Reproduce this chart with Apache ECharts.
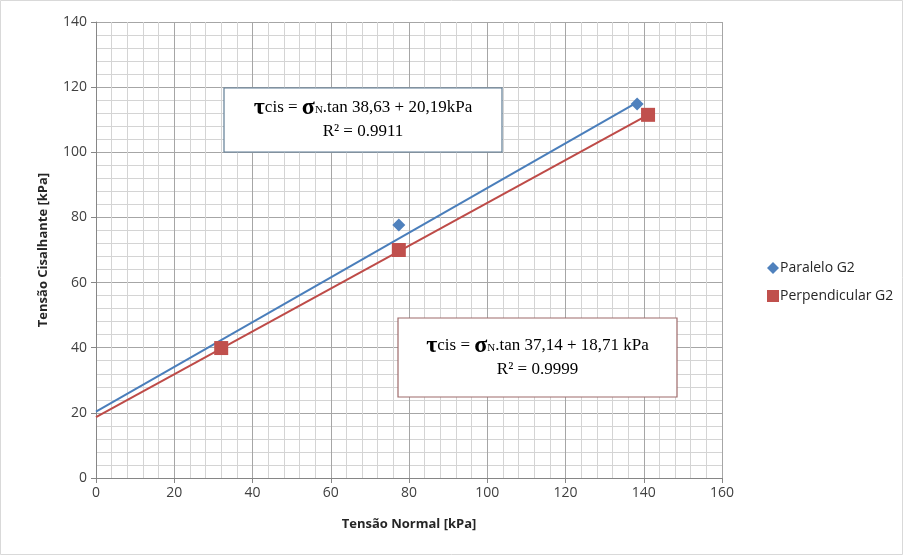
<!DOCTYPE html>
<html>
<head>
<meta charset="utf-8">
<script src="https://cdn.jsdelivr.net/npm/echarts@6/dist/echarts.min.js"></script>
<style>
  html, body { margin: 0; padding: 0; background: #fff; }
  #chart { width: 904px; height: 556px; }
</style>
</head>
<body>
<div id="chart"></div>
<script>
// Ensaio de cisalhamento direto – G2
const xTicks = [0, 20, 40, 60, 80, 100, 120, 140, 160];
const yTicks = [0, 20, 40, 60, 80, 100, 120, 140];

// Pontos medidos [tensão normal, tensão cisalhante] em kPa
const paraleloG2 = [[32, 40.3], [77.4, 77.7], [138.3, 114.8]];
const perpendicularG2 = [[32, 39.9], [77.4, 70.0], [141.1, 111.5]];

// Extremos das retas de tendência
const trendParalelo = [[0, 20.4], [138.3, 115.3]];
const trendPerpendicular = [[0, 18.7], [141.1, 111.5]];

const eqParalelo = ['38,63', '20,19kPa', '0.9911'];
const eqPerpendicular = ['37,14', '18,71 kPa', '0.9999'];

const serif = '"Liberation Serif", "Times New Roman", serif';
const sans = '"Open Sans", "Liberation Sans", Arial, sans-serif';

function eqText(e) {
  return '{g|τ}{t|cis = }{g|σ}{s|N}{t|.tan ' + e[0] + ' + ' + e[1] + '}\n{t|R² = ' + e[2] + '}';
}
const eqRich = {
  g: { fontFamily: serif, fontSize: 24, fontWeight: 'bold', color: '#1a1a1a', lineHeight: 24 },
  t: { fontFamily: serif, fontSize: 17, color: '#1a1a1a', lineHeight: 24 },
  s: { fontFamily: serif, fontSize: 11, color: '#1a1a1a', lineHeight: 24, padding: [5, 0, 0, 0] }
};

const chart = echarts.init(document.getElementById('chart'), null, { renderer: 'canvas' });

const gridLeft = 96, gridTop = 22, gridW = 626, gridH = 456;

function eqBox(x, y, w, h, stroke, e) {
  return {
    type: 'group', x: x, y: y, z: 100,
    children: [
      {
        type: 'rect', z: 100, shape: { x: 0, y: 0, width: w, height: h },
        style: { fill: '#ffffff', stroke: stroke, lineWidth: 1.2 }
      },
      {
        type: 'text', z: 101, x: w / 2, y: h / 2,
        style: {
          text: eqText(e), rich: eqRich,
          align: 'center', verticalAlign: 'middle'
        }
      }
    ]
  };
}

chart.setOption({
  animation: false,
  backgroundColor: '#ffffff',
  grid: { left: gridLeft, top: gridTop, width: gridW, height: gridH },
  xAxis: {
    type: 'value',
    min: xTicks[0], max: xTicks[xTicks.length - 1], interval: 20,
    name: 'Tensão Normal [kPa]',
    nameLocation: 'middle', nameGap: 40,
    nameTextStyle: { fontFamily: sans, fontSize: 13, fontWeight: 'bold', color: '#262626' },
    axisLine: { onZero: false, lineStyle: { color: '#868686', width: 1 } },
    axisTick: { show: true, length: 5, lineStyle: { color: '#868686' } },
    axisLabel: { fontFamily: sans, fontSize: 14, color: '#404040', margin: 8 },
    splitLine: { show: true, lineStyle: { color: '#a6a6a6', width: 1 } },
    minorTick: { show: false, splitNumber: 5 },
    minorSplitLine: { show: true, lineStyle: { color: '#d4d4d4', width: 1 } }
  },
  yAxis: {
    type: 'value',
    min: yTicks[0], max: yTicks[yTicks.length - 1], interval: 20,
    name: 'Tensão Cisalhante [kPa]',
    nameLocation: 'middle', nameGap: 46, nameRotate: 90,
    nameTextStyle: { fontFamily: sans, fontSize: 13, fontWeight: 'bold', color: '#262626' },
    axisLine: { show: true, onZero: false, lineStyle: { color: '#868686', width: 1 } },
    axisTick: { show: true, length: 5, lineStyle: { color: '#868686' } },
    axisLabel: { fontFamily: sans, fontSize: 14, color: '#404040', margin: 9 },
    splitLine: { show: true, lineStyle: { color: '#a6a6a6', width: 1 } },
    minorTick: { show: false, splitNumber: 5 },
    minorSplitLine: { show: true, lineStyle: { color: '#d4d4d4', width: 1 } }
  },
  legend: {
    data: [
      { name: 'Paralelo G2', icon: 'diamond' },
      { name: 'Perpendicular G2', icon: 'rect' }
    ],
    orient: 'vertical',
    left: 762, top: 256,
    itemWidth: 12, itemHeight: 12, itemGap: 14,
    textStyle: { fontFamily: sans, fontSize: 14, color: '#262626', padding: [0, 0, 0, -4] }
  },
  series: [
    {
      name: 'trend-paralelo', type: 'line', data: trendParalelo,
      symbol: 'none', silent: true, z: 2,
      lineStyle: { color: '#4a7ebb', width: 2 }
    },
    {
      name: 'trend-perpendicular', type: 'line', data: trendPerpendicular,
      symbol: 'none', silent: true, z: 2,
      lineStyle: { color: '#be4b48', width: 2 }
    },
    {
      name: 'Paralelo G2', type: 'scatter', data: paraleloG2,
      symbol: 'diamond', symbolSize: 13, z: 3,
      itemStyle: { color: '#4f81bd', opacity: 1 }
    },
    {
      name: 'Perpendicular G2', type: 'scatter', data: perpendicularG2,
      symbol: 'rect', symbolSize: 14, z: 4,
      itemStyle: { color: '#c0504d', opacity: 1 }
    }
  ],
  graphic: {
    elements: [
      {
        type: 'rect', x: 0, y: 0, z: 0, silent: true,
        shape: { x: 0.5, y: 0.5, width: 902, height: 554 },
        style: { fill: 'none', stroke: '#d9d9d9', lineWidth: 1 }
      },
      eqBox(224, 88, 278, 64, '#5f7d95', eqParalelo),
      eqBox(398, 318, 279, 79, '#9e6a6a', eqPerpendicular)
    ]
  }
});
</script>
</body>
</html>
